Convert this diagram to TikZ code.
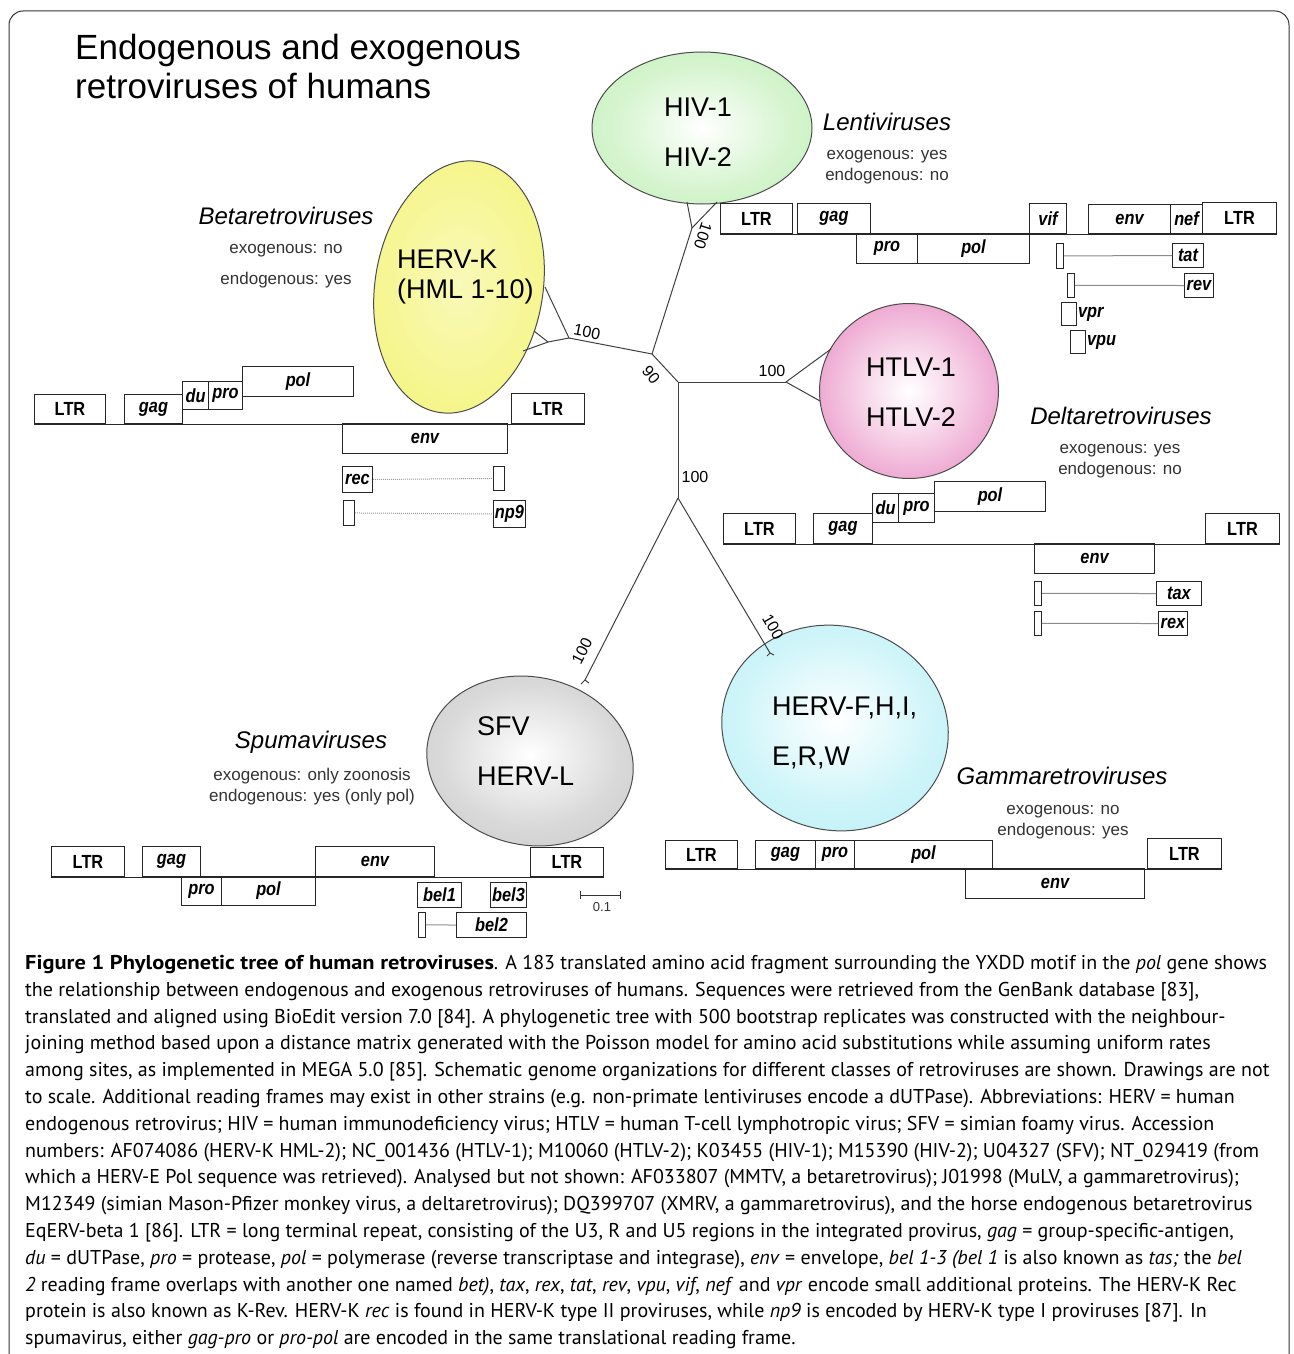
\documentclass[tikz,border=0pt]{standalone}
\usepackage{fontspec}
\setmainfont{Liberation Sans}
\newfontfamily\genefont[FakeStretch=0.86]{Liberation Sans}
\newfontfamily\capfont[BoldFeatures={FakeStretch=1.12}]{PT Sans}
\usetikzlibrary{shapes.geometric,positioning}

\definecolor{hivgreen}{RGB}{180,236,168}
\definecolor{htlvpink}{RGB}{224,98,172}
\definecolor{hervkyellow}{RGB}{242,242,100}
\definecolor{hervcyan}{RGB}{166,236,244}
\definecolor{sfvgray}{RGB}{186,186,186}
\pgfdeclareradialshading{greenhalo}{\pgfpoint{0bp}{0bp}}{color(0bp)=(white); color(20bp)=(white!45!hivgreen); color(50bp)=(hivgreen)}
\pgfdeclareradialshading{pinkhalo}{\pgfpoint{0bp}{0bp}}{color(0bp)=(white); color(10bp)=(white!80!htlvpink); color(30bp)=(white!35!htlvpink); color(50bp)=(htlvpink)}
\pgfdeclareradialshading{yellowhalo}{\pgfpoint{0bp}{0bp}}{color(0bp)=(white!55!hervkyellow); color(25bp)=(white!25!hervkyellow); color(50bp)=(hervkyellow)}
\pgfdeclareradialshading{cyanhalo}{\pgfpoint{0bp}{0bp}}{color(0bp)=(white); color(20bp)=(white!45!hervcyan); color(50bp)=(hervcyan)}
\pgfdeclareradialshading{grayhalo}{\pgfpoint{0bp}{0bp}}{color(0bp)=(white); color(20bp)=(white!45!sfvgray); color(50bp)=(sfvgray)}

\tikzset{
  gene/.style={draw=black!85, line width=1pt, anchor=north west, inner sep=0pt,
    font=\genefont\bfseries\itshape\fontsize{19}{19}\selectfont},
  ltr/.style={gene, font=\genefont\bfseries\fontsize{19}{19}\selectfont},
  stub/.style={draw=black!85, line width=0.9pt, anchor=north west, inner sep=0pt},
  genetxt/.style={font=\genefont\bfseries\itshape\fontsize{19}{19}\selectfont, inner sep=1pt},
  orf/.style={black!45, line width=1pt},
  orfdot/.style={black!40, line width=1pt, densely dotted},
  backbone/.style={black!85, line width=1pt},
  family/.style={font=\itshape\fontsize{24}{24}\selectfont, inner sep=0pt},
  status/.style={text=black!80, align=center, inner sep=0pt, font=\fontsize{17}{21}\selectfont},
  virus/.style={ellipse, draw=black!70, line width=1pt, inner sep=0pt, shade},
  vname/.style={font=\fontsize{27}{50}\selectfont, inner sep=0pt},
  branch/.style={black!75, line width=1pt},
  boot/.style={font=\fontsize{16}{16}\selectfont, inner sep=0pt},
}

\begin{document}
\begin{tikzpicture}[x=1pt,y=-1pt]
\useasboundingbox (0,0) rectangle (1293,1354);
\fill[white] (0,0) rectangle (1293,1354);
\draw[black!80, line width=1pt, rounded corners=14pt] (9,1380) -- (9,11) -- (1289,11) -- (1289,1380);

\node[anchor=base west, align=left, inner sep=0pt, font=\fontsize{35}{39}\selectfont] (title) at (75,98)
  {Endogenous and exogenous\\retroviruses of humans};

\node[virus, shading=greenhalo, minimum width=220pt, minimum height=152pt] (hiv) at (702,128) {};
\node[virus, shading=yellowhalo, minimum width=168pt, minimum height=254pt, rotate=-9] (hervk) at (459,287) {};
\node[virus, shading=pinkhalo, minimum width=179pt, minimum height=175pt] (htlv) at (909,391) {};
\node[virus, shading=grayhalo, minimum width=208pt, minimum height=168pt, rotate=-12] (sfv) at (530,761) {};
\node[virus, shading=cyanhalo, minimum width=228pt, minimum height=204pt, rotate=-15] (herv) at (835,728) {};

\node[vname, align=center] (hivtxt) at (698,132) {HIV-1\\HIV-2};
\node[vname, align=center] (htlvtxt) at (911,392) {HTLV-1\\HTLV-2};
\node[vname, align=left, anchor=west, font=\fontsize{27}{30}\selectfont] (hervktxt) at (397,277) {HERV-K\\(HML 1-10)};
\node[vname, align=left, anchor=west] (sfvtxt) at (477,751) {SFV\\HERV-L};
\node[vname, align=left, anchor=west] (hervtxt) at (772,733) {HERV-F,H,I,\\E,R,W};

\coordinate (n90) at (652,354);
\coordinate (nroot) at (678,382);
\coordinate (nhiv) at (692,228);
\coordinate (nbeta) at (569,338);
\coordinate (nbeta2) at (548,342);
\coordinate (nhtlv) at (786,382);
\coordinate (nlow) at (678,498);
\coordinate (nsfv) at (585,680);
\coordinate (nherv) at (770,653);
\coordinate (thiv1) at (687,202);
\coordinate (thiv2) at (717,202);
\coordinate (tbeta1) at (545,287);
\coordinate (tbeta2) at (534,331);
\coordinate (tbeta3) at (523,351);
\coordinate (thtlv1) at (831,349);
\coordinate (thtlv2) at (820,401);
\coordinate (tsfv1) at (581,684);
\coordinate (tsfv2) at (589,683);
\coordinate (therv1) at (767,656);
\coordinate (therv2) at (774,655);

\draw[branch] (nroot) -- (n90) -- (nhiv);
\draw[branch] (thiv1) -- (nhiv) -- (thiv2);
\draw[branch] (n90) -- (nbeta) -- (tbeta1);
\draw[branch] (nbeta) -- (nbeta2) -- (tbeta2);
\draw[branch] (nbeta2) -- (tbeta3);
\draw[branch] (nroot) -- (nhtlv);
\draw[branch] (thtlv1) -- (nhtlv) -- (thtlv2);
\draw[branch] (nroot) -- (nlow);
\draw[branch] (nlow) -- (nsfv);
\draw[branch] (tsfv1) -- (nsfv) -- (tsfv2);
\draw[branch] (nlow) -- (nherv);
\draw[branch] (therv1) -- (nherv) -- (therv2);

\node[boot, rotate=-108] (bhiv) at (703,236) {100};
\node[boot, rotate=-11] (bbeta) at (587,332) {100};
\node[boot, rotate=-50] (b90) at (651,375) {90};
\node[boot] (bhtlv) at (772,371) {100};
\node[boot] (blow) at (695,477) {100};
\node[boot, rotate=63] (bsfv) at (582,651) {100};
\node[boot, rotate=-60] (bherv) at (773,627) {100};

\node[family] (lentiname) at (887,122) {Lentiviruses};
\node[status] (lentistat) at (887,167) {exogenous: yes\\endogenous: no};
\node[family] (betaname) at (286,216) {Betaretroviruses};
\node[status, font=\fontsize{17}{31}\selectfont] (betastat) at (286,266) {exogenous: no\\endogenous: yes};
\node[family] (deltaname) at (1121,416) {Deltaretroviruses};
\node[status] (deltastat) at (1120,461) {exogenous: yes\\endogenous: no};
\node[family] (spumaname) at (311,742) {Spumaviruses};
\node[status] (spumastat) at (312,787) {exogenous: only zoonosis\\endogenous: yes (only pol)};
\node[family] (gammaname) at (1062,776) {Gammaretroviruses};
\node[status] (gammastat) at (1063,822) {exogenous: no\\endogenous: yes};

\node[ltr, minimum width=72pt, minimum height=30pt] (hivltrA) at (720,203) {LTR};
\node[gene, minimum width=73pt, minimum height=30pt] (hivgag) at (797,203) {gag};
\node[gene, minimum width=61pt, minimum height=30pt] (hivpro) at (856,233) {pro};
\node[gene, minimum width=112pt, minimum height=30pt] (hivpol) at (917,233) {pol};
\node[gene, minimum width=37pt, minimum height=30pt] (hivvif) at (1029,203) {vif};
\node[gene, minimum width=82pt, minimum height=29pt] (hivenv) at (1088,204) {env};
\node[gene, minimum width=32pt, minimum height=29pt] (hivnef) at (1170,204) {nef};
\node[ltr, minimum width=74pt, minimum height=31pt] (hivltrB) at (1202,202) {LTR};
\draw[backbone] (hivltrA.south west) -- (hivltrB.south east);
\node[stub, minimum width=7pt, minimum height=25pt] (tatstub) at (1056,243) {};
\node[gene, minimum width=31pt, minimum height=24pt] (hivtat) at (1172,243) {tat};
\draw[orf] (tatstub.east) -- (hivtat.west);
\node[stub, minimum width=7pt, minimum height=24pt] (revstub) at (1067,273) {};
\node[gene, minimum width=29pt, minimum height=24pt] (hivrev) at (1184,273) {rev};
\draw[orf] (revstub.east) -- (hivrev.west);
\node[stub, minimum width=15pt, minimum height=23pt] (hivvpr) at (1061,302) {};
\node[genetxt, right=0pt of hivvpr] (vprtxt) {vpr};
\node[stub, minimum width=15pt, minimum height=23pt] (hivvpu) at (1070,330) {};
\node[genetxt, right=0pt of hivvpu] (vputxt) {vpu};

\node[ltr, minimum width=71pt, minimum height=29pt] (kltrA) at (34,394) {LTR};
\node[gene, minimum width=58pt, minimum height=29pt] (kgag) at (124,394) {gag};
\node[gene, minimum width=26pt, minimum height=28pt] (kdu) at (182,381) {du};
\node[gene, minimum width=34pt, minimum height=28pt] (kpro) at (208,381) {pro};
\node[gene, minimum width=111pt, minimum height=30pt] (kpol) at (242,366) {pol};
\node[ltr, minimum width=73pt, minimum height=30pt] (kltrB) at (511,393) {LTR};
\draw[backbone] (kltrA.south west) -- (kltrB.south east);
\node[gene, minimum width=165pt, minimum height=30pt] (kenv) at (342,423) {env};
\node[gene, minimum width=30pt, minimum height=26pt] (krec) at (342,466) {rec};
\node[stub, minimum width=11pt, minimum height=24pt] (recstub) at (493,466) {};
\draw[orfdot] (krec.east) -- (recstub.west);
\node[stub, minimum width=11pt, minimum height=25pt] (np9stub) at (343,500) {};
\node[gene, minimum width=32pt, minimum height=27pt] (knp9) at (493,500) {np9};
\draw[orfdot] (np9stub.east) -- (knp9.west);

\node[ltr, minimum width=72pt, minimum height=30pt] (tltrA) at (723,513) {LTR};
\node[gene, minimum width=59pt, minimum height=30pt] (tgag) at (813,513) {gag};
\node[gene, minimum width=26pt, minimum height=29pt] (tdu) at (872,493) {du};
\node[gene, minimum width=36pt, minimum height=29pt] (tpro) at (898,493) {pro};
\node[gene, minimum width=111pt, minimum height=30pt] (tpol) at (934,481) {pol};
\node[ltr, minimum width=74pt, minimum height=30pt] (tltrB) at (1205,513) {LTR};
\draw[backbone] (tltrA.south west) -- (tltrB.south east);
\node[gene, minimum width=120pt, minimum height=30pt] (tenv) at (1034,543) {env};
\node[stub, minimum width=7pt, minimum height=24pt] (taxstub) at (1034,581) {};
\node[gene, minimum width=45pt, minimum height=24pt] (ttax) at (1156,581) {tax};
\draw[orf] (taxstub.east) -- (ttax.west);
\node[stub, minimum width=7pt, minimum height=24pt] (rexstub) at (1034,611) {};
\node[gene, minimum width=29pt, minimum height=24pt] (trex) at (1158,611) {rex};
\draw[orf] (rexstub.east) -- (trex.west);

\node[ltr, minimum width=73pt, minimum height=30pt] (fltrA) at (51,846) {LTR};
\node[gene, minimum width=58pt, minimum height=30pt] (fgag) at (142,846) {gag};
\node[gene, minimum width=40pt, minimum height=29pt] (fpro) at (181,876) {pro};
\node[gene, minimum width=94pt, minimum height=29pt] (fpol) at (221,876) {pol};
\node[gene, minimum width=119pt, minimum height=30pt] (fenv) at (315,846) {env};
\node[ltr, minimum width=73pt, minimum height=29pt] (fltrB) at (530,847) {LTR};
\draw[backbone] (fltrA.south west) -- (fltrB.south east);
\node[gene, minimum width=44pt, minimum height=25pt] (fbel1) at (417,882) {bel1};
\node[gene, minimum width=36pt, minimum height=25pt] (fbel3) at (490,882) {bel3};
\node[stub, minimum width=7pt, minimum height=25pt] (bel2stub) at (418,912) {};
\node[gene, minimum width=70pt, minimum height=25pt] (fbel2) at (456,912) {bel2};
\draw[orf] (bel2stub.east) -- (fbel2.west);
\coordinate (sbl) at (580,895);
\coordinate (sbr) at (621,895);
\draw[black!80, line width=0.8pt, |-|] (sbl) -- (sbr);
\node[font=\fontsize{13}{13}\selectfont, text=black!80] (sbtxt) at (602,907) {0.1};

\node[ltr, minimum width=72pt, minimum height=28pt] (gltrA) at (665,840) {LTR};
\node[gene, minimum width=60pt, minimum height=28pt] (ggag) at (755,840) {gag};
\node[gene, minimum width=39pt, minimum height=28pt] (gpro) at (815,840) {pro};
\node[gene, minimum width=138pt, minimum height=28pt] (gpol) at (854,840) {pol};
\node[ltr, minimum width=74pt, minimum height=30pt] (gltrB) at (1147,838) {LTR};
\draw[backbone] (gltrA.south west) -- (gltrB.south east);
\node[gene, minimum width=179pt, minimum height=30pt] (genv) at (965,868) {env};

\node[anchor=north west, align=left, inner sep=0pt, font=\capfont\fontsize{20}{26.8}\selectfont] (caption) at (25,955)
{\textbf{Figure 1 Phylogenetic tree of human retroviruses}. A 183 translated amino acid fragment surrounding the YXDD motif in the \textit{pol} gene shows\\
the relationship between endogenous and exogenous retroviruses of humans. Sequences were retrieved from the GenBank database [83],\\
translated and aligned using BioEdit version 7.0 [84]. A phylogenetic tree with 500 bootstrap replicates was constructed with the neighbour-\\
joining method based upon a distance matrix generated with the Poisson model for amino acid substitutions while assuming uniform rates\\
among sites, as implemented in MEGA 5.0 [85]. Schematic genome organizations for different classes of retroviruses are shown. Drawings are not\\
to scale. Additional reading frames may exist in other strains (e.g. non-primate lentiviruses encode a dUTPase). Abbreviations: HERV = human\\
endogenous retrovirus; HIV = human immunodeficiency virus; HTLV = human T-cell lymphotropic virus; SFV = simian foamy virus. Accession\\
numbers: AF074086 (HERV-K HML-2); NC\_001436 (HTLV-1); M10060 (HTLV-2); K03455 (HIV-1); M15390 (HIV-2); U04327 (SFV); NT\_029419 (from\\
which a HERV-E Pol sequence was retrieved). Analysed but not shown: AF033807 (MMTV, a betaretrovirus); J01998 (MuLV, a gammaretrovirus);\\
M12349 (simian Mason-Pfizer monkey virus, a deltaretrovirus); DQ399707 (XMRV, a gammaretrovirus), and the horse endogenous betaretrovirus\\
EqERV-beta 1 [86]. LTR = long terminal repeat, consisting of the U3, R and U5 regions in the integrated provirus, \textit{gag} = group-specific-antigen,\\
\textit{du} = dUTPase, \textit{pro} = protease, \textit{pol} = polymerase (reverse transcriptase and integrase), \textit{env} = envelope, \textit{bel 1-3 (bel 1} is also known as \textit{tas;} the \textit{bel}\\
\textit{2} reading frame overlaps with another one named \textit{bet)}, \textit{tax}, \textit{rex}, \textit{tat}, \textit{rev}, \textit{vpu}, \textit{vif}, \textit{nef} and \textit{vpr} encode small additional proteins. The HERV-K Rec\\
protein is also known as K-Rev. HERV-K \textit{rec} is found in HERV-K type II proviruses, while \textit{np9} is encoded by HERV-K type I proviruses [87]. In\\
spumavirus, either \textit{gag-pro} or \textit{pro-pol} are encoded in the same translational reading frame.};
\end{tikzpicture}
\end{document}
